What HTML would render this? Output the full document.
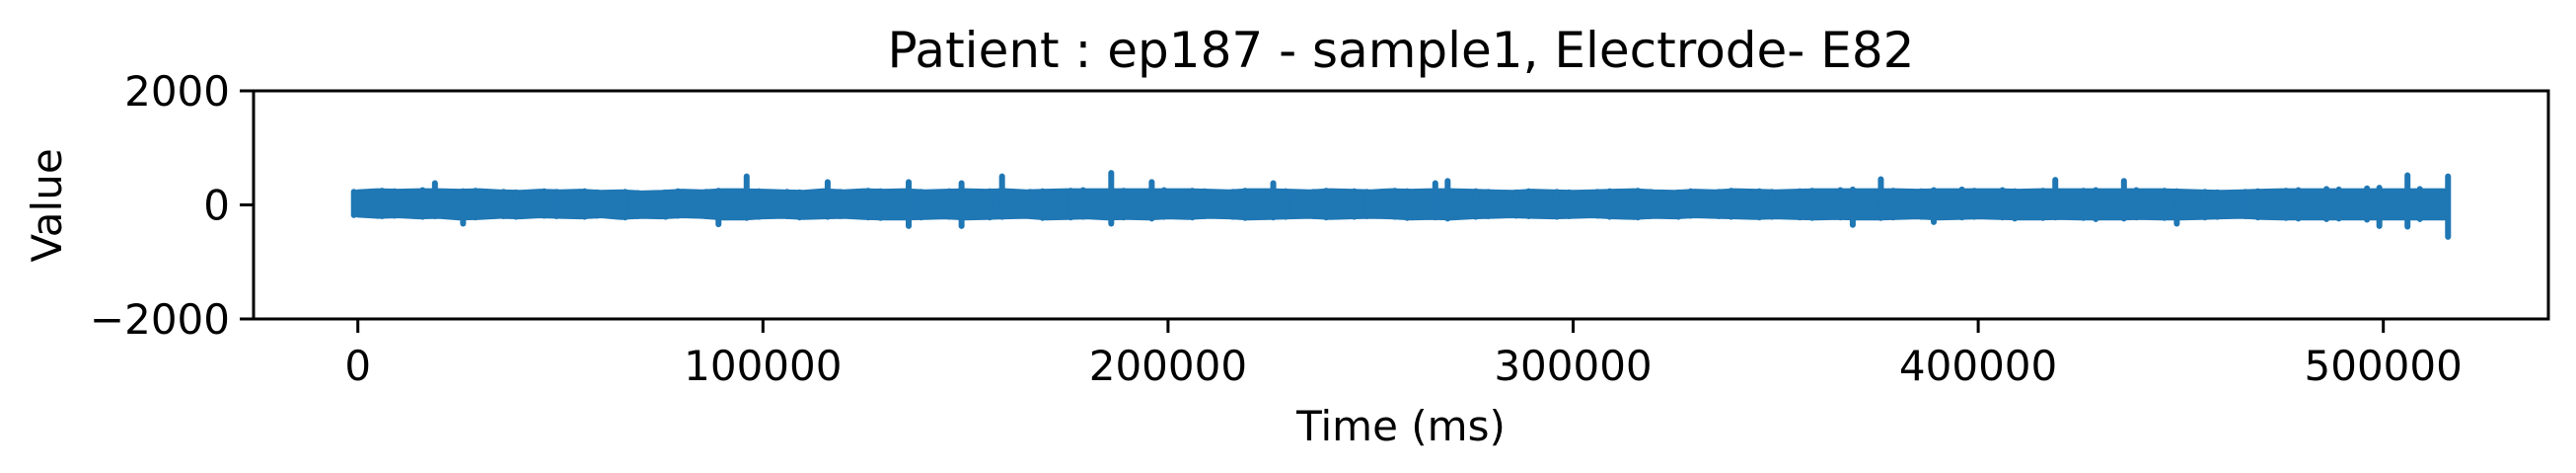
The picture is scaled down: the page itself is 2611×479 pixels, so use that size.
<!DOCTYPE html>
<html><head><meta charset="utf-8"><style>
html,body{margin:0;padding:0;background:#fff;}
svg{display:block;font-family:"DejaVu Sans","Liberation Sans",sans-serif;}
</style></head><body>
<svg id="chart" width="2611" height="479" viewBox="0 0 2611 479" xmlns="http://www.w3.org/2000/svg">
<rect width="2611" height="479" fill="#fff"/>
<text x="1420" y="68" font-size="50" text-anchor="middle">Patient : ep187 - sample1, Electrode- E82</text>
<g id="plot"></g>
<g id="axes"></g>
<text x="1420" y="446" font-size="42" text-anchor="middle">Time (ms)</text>
<text transform="translate(62,208) rotate(-90)" font-size="42" text-anchor="middle">Value</text>
</svg>
<script>
const stepMs = 5000;
const hiValues = [230,250,240,260,380,240,250,230,220,240,
230,240,220,230,210,220,240,230,250,500,
240,230,220,400,230,250,240,400,230,240,
380,240,500,230,240,250,260,560,250,400,
260,250,240,230,250,380,240,230,250,240,
230,250,240,380,420,240,230,220,240,230,
220,230,240,250,230,220,240,230,250,240,
230,240,250,260,270,450,250,240,260,270,
250,260,240,250,440,250,260,420,260,250,
240,230,220,230,240,250,260,280,270,290,
300,520,280,500];
const loValues = [-180,-200,-190,-210,-200,-330,-220,-200,-210,-190,
-200,-210,-190,-220,-200,-210,-190,-200,-340,-230,
-210,-200,-220,-210,-200,-220,-230,-370,-220,-210,
-370,-220,-210,-200,-230,-220,-210,-330,-220,-240,
-210,-220,-200,-210,-230,-220,-210,-200,-220,-210,
-200,-210,-230,-220,-240,-210,-200,-190,-200,-210,
-200,-190,-210,-220,-200,-210,-190,-200,-210,-220,
-210,-220,-230,-220,-350,-230,-220,-210,-300,-220,
-210,-220,-240,-230,-220,-230,-250,-240,-220,-230,
-330,-220,-210,-200,-220,-230,-240,-250,-240,-260,
-370,-380,-250,-560];
const xTicks = [0,100000,200000,300000,400000,500000];
const xTickLabels = ["0","100000","200000","300000","400000","500000"];
const yTicks = [-2000,0,2000];
const yTickLabels = ["\u22122000","0","2000"];

const NS = "http://www.w3.org/2000/svg";
const L=257,R=2583,T=92,B=323;
const xMin=-25750,xMax=540750,yMin=-2000,yMax=2000;
const capHi=250, capLo=-230;
function xs(v){return L+(v-xMin)/(xMax-xMin)*(R-L);}
function ys(v){return B-(v-yMin)/(yMax-yMin)*(B-T);}
function mk(tag,attrs,parent){const e=document.createElementNS(NS,tag);for(const k in attrs)e.setAttribute(k,attrs[k]);parent.appendChild(e);return e;}

const plot=document.getElementById('plot');
let pts=[];
for(let i=0;i<hiValues.length;i++)pts.push(xs(i*stepMs).toFixed(1)+','+ys(Math.min(hiValues[i],capHi)).toFixed(1));
for(let i=loValues.length-1;i>=0;i--)pts.push(xs(i*stepMs).toFixed(1)+','+ys(Math.max(loValues[i],capLo)).toFixed(1));
const band=mk('polygon',{points:pts.join(' '),fill:'#1f77b4',stroke:'#1f77b4','stroke-width':5,'stroke-linejoin':'round'},plot);


for(let i=0;i<hiValues.length;i++){
  const x=xs(i*stepMs)+((i%2)?4:-4);
  const ln=mk('line',{x1:x,x2:x,y1:ys(hiValues[i]),y2:ys(loValues[i]),stroke:'#1f77b4','stroke-width':6,'stroke-linecap':'round'},plot);
  
  
}

const axes=document.getElementById('axes');
const frame=mk('rect',{x:L,y:T,width:R-L,height:B-T,fill:'none',stroke:'#000','stroke-width':3},axes);


xTicks.forEach((v,i)=>{
  const x=xs(v);
  const t=mk('line',{x1:x,x2:x,y1:B,y2:B+14,stroke:'#000','stroke-width':3},axes);
  
  
  const tx=mk('text',{x:x,y:385,'font-size':42,'text-anchor':'middle'},axes);
  tx.textContent=xTickLabels[i];
  
  
});
yTicks.forEach((v,i)=>{
  const y=ys(v);
  const t=mk('line',{x1:L-14,x2:L,y1:y,y2:y,stroke:'#000','stroke-width':3},axes);
  
  
  const tx=mk('text',{x:L-24,y:y+15,'font-size':42,'text-anchor':'end'},axes);
  tx.textContent=yTickLabels[i];
  
  
});
</script>
</body></html>
